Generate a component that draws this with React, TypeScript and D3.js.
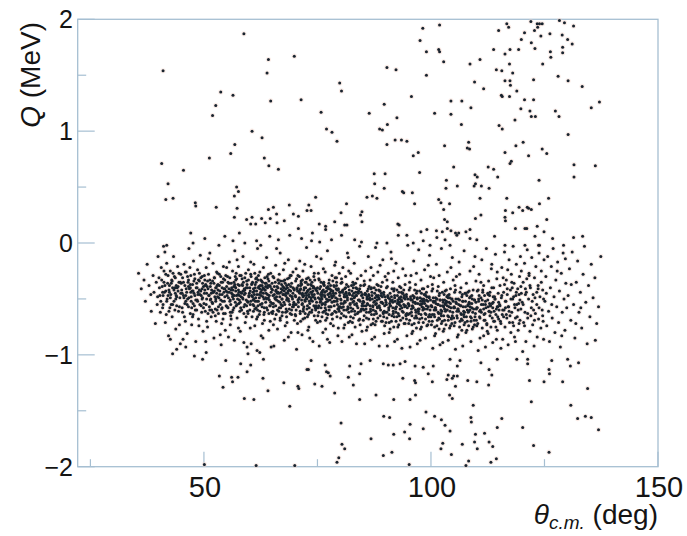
import * as d3 from "d3";

// scatter: flat [theta, Q, theta, Q, ...]
const upperPoints = [
  58.8,1.87, 41.0,1.54, 64.2,1.64, 69.9,1.67, 63.9,1.52, 79.9,1.43, 80.3,1.36, 53.7,1.35, 56.4,1.32, 64.7,1.27,
  71.4,1.28, 52.6,1.23, 51.9,1.14, 75.8,1.17, 86.4,1.16, 77.0,1.02, 78.2,0.99, 79.3,0.91, 60.6,1.00, 62.8,0.94,
  56.8,0.88, 55.9,0.80, 51.2,0.76, 63.3,0.76, 40.7,0.71, 64.3,0.69, 66.4,0.66, 45.5,0.65, 42.1,0.53, 87.5,0.62,
  87.6,0.53, 57.2,0.50, 57.6,0.46, 56.7,0.42, 41.6,0.39, 43.2,0.40, 48.1,0.36, 48.2,0.33, 52.7,0.32, 57.3,0.31,
  74.6,0.41, 85.9,0.41, 87.1,0.42, 88.1,0.40, 56.7,0.23, 64.2,0.30, 65.3,0.32, 68.8,0.34, 73.1,0.34, 72.7,0.29,
  73.6,0.29, 81.4,0.35, 80.2,0.27, 84.8,0.28, 84.5,0.25, 59.4,0.21, 60.6,0.23, 62.7,0.22, 64.6,0.22, 66.0,0.26,
  69.7,0.26, 70.8,0.24, 67.7,0.20, 60.3,0.17, 61.4,0.17, 63.5,0.18, 66.1,0.18, 75.4,0.17, 76.8,0.15, 76.8,0.12,
  78.8,0.19, 81.0,0.16, 81.5,0.16, 84.8,0.19, 70.8,0.13, 47.1,0.09, 57.8,0.09, 73.9,0.09,
  98.2,1.92, 101.9,1.95, 97.6,1.81, 99.0,1.71, 101.7,1.73, 101.9,1.71, 102.8,1.62, 90.3,1.57, 92.3,1.55, 99.0,1.50,
  95.7,1.31, 89.7,1.24, 92.5,1.12, 90.4,1.06, 88.7,1.02, 89.3,1.01, 100.8,1.16, 104.4,1.15, 104.4,1.27, 106.8,1.27,
  108.8,1.21, 106.7,1.06, 108.6,1.60, 110.8,1.64, 109.6,1.44, 111.6,1.38, 113.8,1.73, 114.4,1.55, 115.6,1.54, 116.3,1.69,
  117.4,1.73, 119.3,1.73, 117.3,1.60, 118.0,1.52, 116.3,1.45, 117.4,1.45, 117.5,1.41, 118.9,1.36, 115.5,1.32, 115.7,1.31,
  117.3,1.31, 120.6,1.28, 122.6,1.28, 119.8,1.20, 121.8,1.18, 122.1,1.13, 123.0,1.13, 118.5,1.10, 115.0,1.05, 115.7,1.02,
  116.7,1.96, 117.1,1.93, 114.9,1.90, 119.9,1.82, 120.6,1.88, 122.0,1.98, 122.8,1.90, 123.5,1.93, 123.4,1.96, 123.9,1.96,
  124.5,1.96, 124.2,1.85, 126.2,1.87, 128.3,1.99, 129.4,1.97, 131.4,1.94, 128.9,1.86, 130.1,1.82, 131.1,1.78, 122.9,1.74,
  122.1,1.79, 129.0,1.75, 129.0,1.70, 126.3,1.71, 126.4,1.66, 124.6,1.60, 122.6,1.46, 128.0,1.49, 130.2,1.45, 133.3,1.40,
  127.4,1.18, 128.2,1.13, 135.3,1.21, 137.1,1.26, 130.2,0.97, 92.1,0.92, 93.5,0.92, 94.7,0.91, 90.3,0.88, 103.0,0.87,
  108.3,0.90, 108.0,0.85, 108.5,0.84, 96.1,0.78, 97.2,0.81, 118.7,0.87, 120.3,0.90, 116.3,0.81, 121.5,0.78, 124.5,0.84,
  125.5,0.80, 117.7,0.73, 117.4,0.71, 131.5,0.70, 136.2,0.69, 131.5,0.59, 105.0,0.68, 112.6,0.68, 113.8,0.66, 114.7,0.59,
  109.7,0.61, 110.2,0.59, 109.8,0.53, 97.5,0.63, 89.9,0.62, 89.7,0.49, 103.4,0.56, 105.8,0.51, 103.3,0.49, 109.5,0.51,
  111.1,0.51, 112.8,0.49, 110.8,0.40, 123.8,0.56, 125.9,0.40, 116.7,0.40, 93.7,0.46, 94.0,0.45, 95.9,0.45, 96.4,0.35,
  101.7,0.39, 102.2,0.36, 104.1,0.35, 102.8,0.30, 103.0,0.21, 103.6,0.19, 109.8,0.22, 111.0,0.25, 116.3,0.23, 116.4,0.20,
  118.0,0.27, 116.4,0.29, 119.4,0.32, 120.2,0.29, 121.2,0.32, 121.5,0.31, 122.1,0.30, 123.9,0.35, 125.5,0.21, 118.6,0.13,
  120.7,0.13, 123.4,0.15, 124.9,0.10, 92.7,0.17, 93.0,0.16, 97.8,0.10, 99.1,0.12, 101.2,0.11, 102.5,0.10, 103.6,0.13,
  104.4,0.11, 105.4,0.09, 106.1,0.09, 107.7,0.10, 108.6,0.12,
];

const gapPoints = [
  108.6,0.04, 110.1,0.03, 92.8,0.07, 94.7,0.07, 98.3,0.02, 101.3,0.05, 103.1,0.03, 105.7,0.07, 114.0,0.06, 116.3,-0.02,
  121.1,0.13, 122.9,0.06, 126.8,0.04, 131.4,0.05, 133.4,0.06, 88.1,0.00, 90.3,0.00, 96.1,0.00, 99.8,-0.02, 104.2,-0.02,
  120.7,-0.02, 123.7,-0.02, 129.2,-0.02, 47.6,0.00, 50.2,0.04, 54.6,0.06, 56.4,0.02, 59.0,0.00, 61.6,0.02, 62.5,-0.02,
  64.5,0.06, 66.4,0.03, 68.9,0.07, 71.5,0.04, 73.7,0.02, 75.5,0.01, 78.1,0.03, 80.3,0.07, 83.2,0.03, 84.7,0.01, 41.8,-0.02,
];

const lowerPoints = [
  43.1,-0.99, 47.9,-1.01, 49.7,-1.04, 50.5,-0.98, 54.8,-1.05, 58.1,-1.08, 59.7,-0.99, 60.3,-1.09, 61.7,-0.96, 62.3,-0.98,
  63.1,-1.04, 59.5,-1.15, 53.4,-1.19, 56.1,-1.20, 56.3,-1.24, 57.5,-1.20, 54.2,-1.29, 63.0,-1.21, 64.1,-1.32, 58.9,-1.39,
  61.0,-1.40, 67.6,-1.25, 68.9,-1.46, 70.7,-1.28, 70.9,-1.30, 72.7,-1.13, 73.0,-1.13, 73.6,-1.05, 74.4,-1.26, 76.0,-1.28,
  76.7,-1.09, 77.0,-1.15, 77.4,-1.16, 77.8,-1.19, 78.8,-1.34, 80.2,-1.61, 80.4,-1.80, 81.0,-1.84, 79.7,-1.92, 79.3,-1.96,
  81.8,-1.20, 82.1,-1.10, 82.9,-1.27, 84.3,-1.40, 84.6,-1.08, 84.3,-1.17, 86.8,-1.75, 87.9,-1.36, 50.1,-1.98, 61.5,-1.99,
  70.0,-1.99, 86.6,-1.05, 89.5,-1.08, 90.6,-1.09, 91.7,-1.09, 93.2,-1.08, 94.3,-1.06, 96.5,-1.10, 98.3,-1.11, 100.5,-1.10,
  93.8,-1.21, 96.4,-1.23, 96.6,-1.25, 99.4,-1.17, 100.3,-1.24, 103.5,-1.22, 103.8,-1.18, 104.7,-1.21, 105.0,-1.19, 105.8,-1.19,
  105.4,-1.28, 105.8,-1.10, 106.4,-1.05, 104.2,-1.04, 108.1,-1.23, 110.1,-1.24, 111.0,-1.07, 112.8,-1.13, 113.4,-1.18, 112.7,-1.27,
  114.6,-1.04, 118.9,-1.04, 121.3,-1.04, 121.3,-1.08, 121.7,-1.23, 124.9,-1.24, 126.0,-1.13, 126.1,-1.17, 126.6,-1.05, 129.0,-1.24,
  130.1,-1.04, 130.7,-1.10, 132.5,-1.07, 134.5,-1.30, 136.2,-0.87, 91.8,-1.40, 95.4,-1.40, 96.6,-1.36, 104.1,-1.36, 104.7,-1.39,
  109.3,-1.45, 122.1,-1.42, 130.8,-1.45, 89.6,-1.55, 90.9,-1.56, 98.9,-1.51, 100.8,-1.55, 102.3,-1.58, 103.1,-1.63, 108.8,-1.56,
  108.9,-1.60, 115.6,-1.57, 114.6,-1.65, 120.2,-1.65, 132.3,-1.57, 134.0,-1.55, 135.3,-1.56, 136.9,-1.67, 95.4,-1.62, 98.3,-1.66,
  104.2,-1.68, 94.2,-1.69, 91.8,-1.71, 95.3,-1.75, 109.8,-1.71, 111.8,-1.70, 109.6,-1.78, 112.8,-1.78, 113.6,-1.82, 110.2,-1.84,
  106.9,-1.80, 102.6,-1.79, 102.2,-1.84, 122.6,-1.81, 126.0,-1.87, 89.5,-1.90, 91.4,-1.87, 104.5,-1.89, 108.3,-1.95, 107.7,-1.99,
  113.2,-1.96, 114.4,-1.93, 95.2,-1.98,
];

// dense band, by 5-degree column
const band35 = [35.6,-0.27, 36.2,-0.41, 36.8,-0.33, 37.1,-0.52, 37.5,-0.19, 37.9,-0.38, 38.3,-0.46, 38.4,-0.61, 38.8,-0.29, 39.0,-0.44, 39.3,-0.72, 39.5,-0.35, 39.7,-0.55, 39.9,-0.12, 39.8,-0.48];
const band40 = [40.1,-0.31, 40.3,-0.47, 40.4,-0.62, 40.6,-0.22, 40.8,-0.39, 41.0,-0.55, 41.1,-0.03, 41.3,-0.44, 41.5,-0.71, 41.6,-0.28, 41.8,-0.18, 41.9,-0.50, 42.0,-0.36, 42.2,-0.83, 42.3,-0.42, 42.5,-0.58, 42.6,-0.25, 42.7,-0.46, 42.9,-0.33, 43.0,-0.66, 43.1,-0.40, 43.3,-0.12, 43.4,-0.52, 43.5,-0.30, 43.7,-0.45, 43.8,-0.77, 43.9,-0.38, 44.0,-0.56, 44.2,-0.21, 44.3,-0.43, 44.4,-0.61, 44.5,-0.35, 44.7,-0.49, 44.8,-0.90, 44.9,-0.28, 40.5,-0.52, 41.2,-0.35, 41.7,-0.64, 42.1,-0.47, 42.8,-0.55, 43.2,-0.27, 43.6,-0.60, 44.1,-0.40, 44.6,-0.73, 40.9,-0.44, 42.4,-0.38, 43.9,-0.47, 41.4,-0.08, 44.0,-0.95, 42.6,-0.86];
const band45 = [45.1,-0.42, 45.2,-0.58, 45.3,-0.31, 45.5,-0.47, 45.6,-0.19, 45.7,-0.66, 45.8,-0.38, 46.0,-0.52, 46.1,-0.26, 46.2,-0.44, 46.3,-0.81, 46.5,-0.35, 46.6,-0.57, 46.7,-0.05, 46.8,-0.41, 47.0,-0.63, 47.1,-0.29, 47.2,-0.48, 47.3,-0.73, 47.5,-0.37, 47.6,-0.54, 47.7,-0.16, 47.8,-0.45, 48.0,-0.32, 48.1,-0.60, 48.2,-0.88, 48.3,-0.40, 48.5,-0.51, 48.6,-0.24, 48.7,-0.46, 48.8,-0.68, 49.0,-0.34, 49.1,-0.55, 49.2,-0.11, 49.3,-0.43, 49.5,-0.62, 49.6,-0.30, 49.7,-0.49, 49.8,-0.79, 49.9,-0.39, 45.4,-0.86, 45.9,-0.70, 46.4,-0.50, 46.9,-0.22, 47.4,-0.43, 47.9,-0.56, 48.4,-0.36, 48.9,-0.74, 49.4,-0.47, 49.9,-0.58, 45.0,-0.36, 46.0,-0.93, 47.0,-0.40, 48.0,-0.47, 49.0,-0.27, 45.6,-0.49, 46.6,-0.33, 47.6,-0.64, 48.6,-0.52, 49.6,-0.41];
const band50 = [50.1,-0.45, 50.2,-0.33, 50.3,-0.61, 50.5,-0.22, 50.6,-0.50, 50.7,-0.39, 50.8,-0.75, 51.0,-0.28, 51.1,-0.47, 51.2,-0.57, 51.3,-0.09, 51.5,-0.36, 51.6,-0.66, 51.7,-0.42, 51.8,-0.53, 52.0,-0.18, 52.1,-0.44, 52.2,-0.85, 52.3,-0.31, 52.5,-0.59, 52.6,-0.40, 52.7,-0.70, 52.8,-0.26, 53.0,-0.48, 53.1,-0.37, 53.2,-0.63, 53.3,-0.02, 53.5,-0.43, 53.6,-0.55, 53.7,-0.30, 53.8,-0.91, 54.0,-0.46, 54.1,-0.35, 54.2,-0.68, 54.3,-0.21, 54.5,-0.52, 54.6,-0.41, 54.7,-0.78, 54.8,-0.29, 54.9,-0.56, 50.4,-0.88, 50.9,-0.41, 51.4,-0.51, 51.9,-0.34, 52.4,-0.48, 52.9,-0.60, 53.4,-0.38, 53.9,-0.72, 54.4,-0.44, 50.0,-0.54, 51.0,-0.14, 52.0,-0.62, 53.0,-0.27, 54.0,-0.58, 55.0,-0.39, 50.6,-0.70, 51.6,-0.45, 52.6,-0.52, 53.6,-0.82, 54.6,-0.33, 50.3,-0.38, 51.3,-0.60, 52.3,-0.43, 53.3,-0.49, 54.3,-0.63];
const band55 = [55.1,-0.47, 55.2,-0.30, 55.3,-0.58, 55.5,-0.41, 55.6,-0.17, 55.7,-0.52, 55.8,-0.73, 56.0,-0.36, 56.1,-0.45, 56.2,-0.62, 56.3,-0.25, 56.5,-0.50, 56.6,-0.39, 56.7,-0.87, 56.8,-0.07, 57.0,-0.43, 57.1,-0.56, 57.2,-0.32, 57.3,-0.67, 57.5,-0.46, 57.6,-0.21, 57.7,-0.54, 57.8,-0.38, 58.0,-0.79, 58.1,-0.44, 58.2,-0.29, 58.3,-0.60, 58.5,-0.49, 58.6,-0.12, 58.7,-0.35, 58.8,-0.57, 59.0,-0.42, 59.1,-0.71, 59.2,-0.27, 59.3,-0.51, 59.5,-0.93, 59.6,-0.40, 59.7,-0.63, 59.8,-0.33, 59.9,-0.48, 55.4,-0.84, 55.9,-0.55, 56.4,-0.42, 56.9,-0.30, 57.4,-0.50, 57.9,-0.61, 58.4,-0.37, 58.9,-0.46, 59.4,-0.56, 55.0,-0.22, 56.0,-0.68, 57.0,-0.40, 58.0,-0.53, 59.0,-0.31, 55.6,-0.44, 56.6,-0.58, 57.6,-0.76, 58.6,-0.43, 59.6,-0.52, 55.3,-0.35, 56.3,-0.48, 57.3,-0.15, 58.3,-0.45, 59.3,-0.66, 55.8,-0.62, 56.8,-0.37, 57.8,-0.47, 58.8,-0.89, 59.8,-0.24];
const band60 = [60.1,-0.40, 60.2,-0.55, 60.3,-0.28, 60.5,-0.47, 60.6,-0.66, 60.7,-0.35, 60.8,-0.51, 61.0,-0.19, 61.1,-0.43, 61.2,-0.74, 61.3,-0.37, 61.5,-0.58, 61.6,-0.31, 61.7,-0.46, 61.8,-0.05, 62.0,-0.52, 62.1,-0.39, 62.2,-0.64, 62.3,-0.26, 62.5,-0.44, 62.6,-0.83, 62.7,-0.34, 62.8,-0.57, 63.0,-0.48, 63.1,-0.22, 63.2,-0.41, 63.3,-0.69, 63.5,-0.36, 63.6,-0.53, 63.7,-0.45, 63.8,-0.13, 64.0,-0.60, 64.1,-0.32, 64.2,-0.49, 64.3,-0.78, 64.5,-0.38, 64.6,-0.56, 64.7,-0.27, 64.8,-0.44, 64.9,-0.62, 60.4,-0.90, 60.9,-0.61, 61.4,-0.49, 61.9,-0.33, 62.4,-0.55, 62.9,-0.72, 63.4,-0.42, 63.9,-0.30, 64.4,-0.51, 60.0,-0.45, 61.0,-0.56, 62.0,-0.29, 63.0,-0.85, 64.0,-0.40, 65.0,-0.54, 60.6,-0.36, 61.6,-0.68, 62.6,-0.47, 63.6,-0.39, 64.6,-0.70, 60.3,-0.17, 61.3,-0.52, 62.3,-0.41, 63.3,-0.58, 64.3,-0.34, 60.8,-0.44, 61.8,-0.60, 62.8,-0.38, 63.8,-0.50, 64.8,-0.93, 60.2,-0.76, 61.2,-0.27, 62.2,-0.46, 63.2,-0.64];
const band65 = [65.1,-0.42, 65.2,-0.30, 65.3,-0.57, 65.5,-0.46, 65.6,-0.68, 65.7,-0.35, 65.8,-0.20, 66.0,-0.51, 66.1,-0.39, 66.2,-0.77, 66.3,-0.44, 66.5,-0.61, 66.6,-0.28, 66.7,-0.48, 66.8,-0.09, 67.0,-0.55, 67.1,-0.37, 67.2,-0.65, 67.3,-0.42, 67.5,-0.24, 67.6,-0.53, 67.7,-0.87, 67.8,-0.33, 68.0,-0.47, 68.1,-0.59, 68.2,-0.38, 68.3,-0.71, 68.5,-0.45, 68.6,-0.15, 68.7,-0.52, 68.8,-0.31, 69.0,-0.63, 69.1,-0.43, 69.2,-0.80, 69.3,-0.36, 69.5,-0.50, 69.6,-0.26, 69.7,-0.57, 69.8,-0.41, 69.9,-0.69, 65.4,-0.92, 65.9,-0.64, 66.4,-0.52, 66.9,-0.34, 67.4,-0.46, 67.9,-0.74, 68.4,-0.40, 68.9,-0.55, 69.4,-0.48, 65.0,-0.36, 66.0,-0.05, 67.0,-0.44, 68.0,-0.62, 69.0,-0.29, 65.6,-0.49, 66.6,-0.58, 67.6,-0.40, 68.6,-0.84, 69.6,-0.45, 65.3,-0.73, 66.3,-0.33, 67.3,-0.56, 68.3,-0.49, 69.3,-0.60, 65.8,-0.43, 66.8,-0.69, 67.8,-0.18, 68.8,-0.42, 69.8,-0.53, 65.2,-0.61, 66.2,-0.45, 67.2,-0.50, 68.2,-0.66];
const band70 = [70.1,-0.47, 70.2,-0.34, 70.3,-0.60, 70.5,-0.41, 70.6,-0.72, 70.7,-0.29, 70.8,-0.53, 71.0,-0.44, 71.1,-0.16, 71.2,-0.63, 71.3,-0.38, 71.5,-0.51, 71.6,-0.82, 71.7,-0.45, 71.8,-0.25, 72.0,-0.57, 72.1,-0.40, 72.2,-0.67, 72.3,-0.35, 72.5,-0.49, 72.6,-0.04, 72.7,-0.59, 72.8,-0.43, 73.0,-0.31, 73.1,-0.75, 73.2,-0.48, 73.3,-0.54, 73.5,-0.37, 73.6,-0.21, 73.7,-0.62, 73.8,-0.46, 74.0,-0.88, 74.1,-0.39, 74.2,-0.56, 74.3,-0.27, 74.5,-0.50, 74.6,-0.69, 74.7,-0.42, 74.8,-0.12, 74.9,-0.58, 70.4,-0.95, 70.9,-0.50, 71.4,-0.36, 71.9,-0.61, 72.4,-0.45, 72.9,-0.78, 73.4,-0.41, 73.9,-0.52, 74.4,-0.33, 70.0,-0.55, 71.0,-0.30, 72.0,-0.47, 73.0,-0.64, 74.0,-0.43, 75.0,-0.71, 70.6,-0.43, 71.6,-0.55, 72.6,-0.32, 73.6,-0.49, 74.6,-0.60, 70.3,-0.23, 71.3,-0.70, 72.3,-0.52, 73.3,-0.85, 74.3,-0.46, 70.8,-0.38, 71.8,-0.48, 72.8,-0.66, 73.8,-0.35, 74.8,-0.53, 70.2,-0.65, 71.2,-0.42, 72.2,-0.19, 73.2,-0.58, 74.2,-0.40, 70.7,-0.80, 71.7,-0.33, 72.7,-0.50, 73.7,-0.44];
const band75 = [75.1,-0.45, 75.2,-0.58, 75.3,-0.32, 75.5,-0.50, 75.6,-0.70, 75.7,-0.39, 75.8,-0.14, 76.0,-0.55, 76.1,-0.43, 76.2,-0.80, 76.3,-0.36, 76.5,-0.61, 76.6,-0.48, 76.7,-0.26, 76.8,-0.53, 77.0,-0.40, 77.1,-0.67, 77.2,-0.07, 77.3,-0.46, 77.5,-0.57, 77.6,-0.33, 77.7,-0.89, 77.8,-0.51, 78.0,-0.42, 78.1,-0.64, 78.2,-0.29, 78.3,-0.48, 78.5,-0.74, 78.6,-0.38, 78.7,-0.56, 78.8,-0.20, 79.0,-0.45, 79.1,-0.62, 79.2,-0.35, 79.3,-0.52, 79.5,-0.83, 79.6,-0.41, 79.7,-0.59, 79.8,-0.27, 79.9,-0.47, 75.4,-0.92, 75.9,-0.48, 76.4,-0.37, 76.9,-0.63, 77.4,-0.51, 77.9,-0.72, 78.4,-0.43, 78.9,-0.31, 79.4,-0.55, 75.0,-0.40, 76.0,-0.66, 77.0,-0.50, 78.0,-0.57, 79.0,-0.17, 80.0,-0.44, 75.6,-0.53, 76.6,-0.44, 77.6,-0.60, 78.6,-0.47, 79.6,-0.76, 75.3,-0.62, 76.3,-0.23, 77.3,-0.39, 78.3,-0.68, 79.3,-0.42, 75.8,-0.35, 76.8,-0.77, 77.8,-0.45, 78.8,-0.52, 79.8,-0.61, 75.2,-0.27, 76.2,-0.54, 77.2,-0.86, 78.2,-0.49, 79.2,-0.38, 75.7,-0.46, 76.7,-0.58, 77.7,-0.41];
const band80 = [80.1,-0.50, 80.2,-0.36, 80.3,-0.63, 80.5,-0.44, 80.6,-0.22, 80.7,-0.57, 80.8,-0.76, 81.0,-0.41, 81.1,-0.53, 81.2,-0.30, 81.3,-0.66, 81.5,-0.47, 81.6,-0.09, 81.7,-0.59, 81.8,-0.39, 82.0,-0.84, 82.1,-0.46, 82.2,-0.55, 82.3,-0.27, 82.5,-0.61, 82.6,-0.43, 82.7,-0.71, 82.8,-0.35, 83.0,-0.52, 83.1,-0.18, 83.2,-0.48, 83.3,-0.64, 83.5,-0.40, 83.6,-0.90, 83.7,-0.56, 83.8,-0.32, 84.0,-0.45, 84.1,-0.69, 84.2,-0.51, 84.3,-0.03, 84.5,-0.38, 84.6,-0.60, 84.7,-0.47, 84.8,-0.79, 84.9,-0.54, 80.4,-0.88, 80.9,-0.48, 81.4,-0.60, 81.9,-0.25, 82.4,-0.50, 82.9,-0.67, 83.4,-0.44, 83.9,-0.58, 84.4,-0.73, 80.0,-0.57, 81.0,-0.73, 82.0,-0.42, 83.0,-0.37, 84.0,-0.62, 85.0,-0.49, 80.6,-0.42, 81.6,-0.51, 82.6,-0.82, 83.6,-0.47, 84.6,-0.29, 80.3,-0.32, 81.3,-0.45, 82.3,-0.58, 83.3,-0.75, 84.3,-0.41, 80.8,-0.65, 81.8,-0.13, 82.8,-0.53, 83.8,-0.44, 84.8,-0.56, 80.2,-0.54, 81.2,-0.40, 82.2,-0.70, 83.2,-0.61];
const band85 = [85.1,-0.52, 85.2,-0.38, 85.3,-0.65, 85.5,-0.46, 85.6,-0.25, 85.7,-0.59, 85.8,-0.78, 86.0,-0.43, 86.1,-0.55, 86.2,-0.12, 86.3,-0.68, 86.5,-0.49, 86.6,-0.33, 86.7,-0.61, 86.8,-0.41, 87.0,-0.86, 87.1,-0.50, 87.2,-0.57, 87.3,-0.29, 87.5,-0.64, 87.6,-0.45, 87.7,-0.73, 87.8,-0.04, 88.0,-0.54, 88.1,-0.37, 88.2,-0.48, 88.3,-0.67, 88.5,-0.42, 88.6,-0.92, 88.7,-0.58, 88.8,-0.20, 89.0,-0.47, 89.1,-0.70, 89.2,-0.53, 89.3,-0.35, 89.5,-0.62, 89.6,-0.44, 89.7,-0.81, 89.8,-0.56, 89.9,-0.30, 85.4,-0.90, 85.9,-0.50, 86.4,-0.62, 86.9,-0.40, 87.4,-0.53, 87.9,-0.70, 88.4,-0.47, 88.9,-0.60, 89.4,-0.15, 85.0,-0.59, 86.0,-0.75, 87.0,-0.44, 88.0,-0.63, 89.0,-0.39, 90.0,-0.51, 85.6,-0.46, 86.6,-0.56, 87.6,-0.84, 88.6,-0.50, 89.6,-0.66, 85.3,-0.34, 86.3,-0.47, 87.3,-0.60, 88.3,-0.26, 89.3,-0.48, 85.8,-0.67, 86.8,-0.22, 87.8,-0.55, 88.8,-0.43, 89.8,-0.74, 85.2,-0.56, 86.2,-0.41, 87.2,-0.72, 88.2,-0.58];
const band90 = [90.1,-0.53, 90.2,-0.40, 90.3,-0.67, 90.5,-0.48, 90.6,-0.27, 90.7,-0.60, 90.8,-0.80, 91.0,-0.45, 91.1,-0.56, 91.2,-0.08, 91.3,-0.70, 91.5,-0.51, 91.6,-0.35, 91.7,-0.63, 91.8,-0.43, 92.0,-0.88, 92.1,-0.52, 92.2,-0.59, 92.3,-0.18, 92.5,-0.66, 92.6,-0.47, 92.7,-0.75, 92.8,-0.31, 93.0,-0.55, 93.1,-0.39, 93.2,-0.50, 93.3,-0.69, 93.5,-0.44, 93.6,-0.94, 93.7,-0.61, 93.8,-0.23, 94.0,-0.49, 94.1,-0.72, 94.2,-0.57, 94.3,-0.37, 94.5,-0.64, 94.6,-0.46, 94.7,-0.83, 94.8,-0.58, 94.9,-0.02, 90.4,-0.92, 90.9,-0.54, 91.4,-0.65, 91.9,-0.41, 92.4,-0.57, 92.9,-0.73, 93.4,-0.48, 93.9,-0.62, 94.4,-0.29, 90.0,-0.62, 91.0,-0.77, 92.0,-0.47, 93.0,-0.65, 94.0,-0.42, 95.0,-0.54, 90.6,-0.49, 91.6,-0.58, 92.6,-0.86, 93.6,-0.52, 94.6,-0.68, 90.3,-0.33, 91.3,-0.14, 92.3,-0.62, 93.3,-0.56, 94.3,-0.50, 90.8,-0.71, 91.8,-0.25, 92.8,-0.53, 93.8,-0.45];
const band95 = [95.1,-0.55, 95.2,-0.42, 95.3,-0.69, 95.5,-0.50, 95.6,-0.29, 95.7,-0.62, 95.8,-0.81, 96.0,-0.47, 96.1,-0.58, 96.2,-0.16, 96.3,-0.72, 96.5,-0.53, 96.6,-0.37, 96.7,-0.65, 96.8,-0.45, 97.0,-0.90, 97.1,-0.54, 97.2,-0.61, 97.3,-0.06, 97.5,-0.68, 97.6,-0.49, 97.7,-0.77, 97.8,-0.33, 98.0,-0.57, 98.1,-0.41, 98.2,-0.52, 98.3,-0.71, 98.5,-0.46, 98.6,-0.24, 98.7,-0.63, 98.8,-0.85, 99.0,-0.51, 99.1,-0.74, 99.2,-0.59, 99.3,-0.39, 99.5,-0.66, 99.6,-0.48, 99.7,-0.11, 99.8,-0.60, 99.9,-0.30, 95.4,-0.93, 95.9,-0.56, 96.4,-0.67, 96.9,-0.43, 97.4,-0.59, 97.9,-0.75, 98.4,-0.50, 98.9,-0.64, 99.4,-0.20, 95.0,-0.64, 96.0,-0.79, 97.0,-0.49, 98.0,-0.67, 99.0,-0.44, 100.0,-0.56, 95.6,-0.51, 96.6,-0.60, 97.6,-0.87, 98.6,-0.54, 99.6,-0.70, 95.3,-0.35, 96.3,-0.48, 97.3,-0.63, 98.3,-0.58, 99.3,-0.52, 95.8,-0.73, 96.8,-0.27, 97.8,-0.55, 98.8,-0.47];
const band100 = [100.1,-0.56, 100.2,-0.43, 100.3,-0.70, 100.5,-0.52, 100.6,-0.31, 100.7,-0.64, 100.8,-0.83, 101.0,-0.49, 101.1,-0.60, 101.2,-0.19, 101.3,-0.74, 101.5,-0.55, 101.6,-0.39, 101.7,-0.67, 101.8,-0.47, 102.0,-0.91, 102.1,-0.56, 102.2,-0.63, 102.3,-0.05, 102.5,-0.70, 102.6,-0.51, 102.7,-0.79, 102.8,-0.35, 103.0,-0.59, 103.1,-0.43, 103.2,-0.54, 103.3,-0.73, 103.5,-0.48, 103.6,-0.26, 103.7,-0.65, 103.8,-0.87, 104.0,-0.53, 104.1,-0.76, 104.2,-0.61, 104.3,-0.41, 104.5,-0.68, 104.6,-0.50, 104.7,-0.13, 104.8,-0.62, 104.9,-0.33, 100.4,-0.94, 100.9,-0.58, 101.4,-0.69, 101.9,-0.45, 102.4,-0.61, 102.9,-0.77, 103.4,-0.52, 103.9,-0.66, 104.4,-0.22, 100.0,-0.66, 101.0,-0.81, 102.0,-0.51, 103.0,-0.69, 104.0,-0.46, 105.0,-0.58, 100.6,-0.53, 101.6,-0.62, 102.6,-0.89, 103.6,-0.56, 104.6,-0.72, 100.3,-0.37, 101.3,-0.50, 102.3,-0.65, 103.3,-0.60, 104.3,-0.54, 100.8,-0.75, 101.8,-0.29, 102.8,-0.57, 103.8,-0.49];
const band105 = [105.1,-0.57, 105.2,-0.44, 105.3,-0.71, 105.5,-0.53, 105.6,-0.30, 105.7,-0.65, 105.8,-0.84, 106.0,-0.50, 106.1,-0.61, 106.2,-0.17, 106.3,-0.75, 106.5,-0.56, 106.6,-0.40, 106.7,-0.68, 106.8,-0.48, 107.0,-0.92, 107.1,-0.57, 107.2,-0.64, 107.3,-0.07, 107.5,-0.71, 107.6,-0.52, 107.7,-0.80, 107.8,-0.36, 108.0,-0.60, 108.1,-0.44, 108.2,-0.55, 108.3,-0.74, 108.5,-0.49, 108.6,-0.25, 108.7,-0.66, 108.8,-0.88, 109.0,-0.54, 109.1,-0.77, 109.2,-0.62, 109.3,-0.42, 109.5,-0.69, 109.6,-0.51, 109.7,-0.12, 109.8,-0.63, 109.9,-0.34, 105.4,-0.95, 105.9,-0.59, 106.4,-0.70, 106.9,-0.46, 107.4,-0.62, 107.9,-0.78, 108.4,-0.53, 108.9,-0.67, 109.4,-0.21, 105.0,-0.67, 106.0,-0.82, 107.0,-0.52, 108.0,-0.70, 109.0,-0.47, 110.0,-0.59, 105.6,-0.54, 106.6,-0.63, 107.6,-0.45, 108.6,-0.57, 109.6,-0.73, 105.3,-0.38, 106.3,-0.28, 107.3,-0.66, 108.3,-0.61];
const band110 = [110.1,-0.58, 110.2,-0.43, 110.3,-0.72, 110.5,-0.52, 110.6,-0.28, 110.7,-0.66, 110.8,-0.85, 111.0,-0.49, 111.1,-0.62, 111.2,-0.15, 111.3,-0.76, 111.5,-0.55, 111.6,-0.38, 111.7,-0.69, 111.8,-0.47, 112.0,-0.93, 112.1,-0.58, 112.2,-0.05, 112.3,-0.72, 112.5,-0.51, 112.6,-0.81, 112.7,-0.34, 112.8,-0.61, 113.0,-0.44, 113.1,-0.56, 113.2,-0.75, 113.3,-0.23, 113.5,-0.67, 113.6,-0.89, 113.7,-0.53, 113.8,-0.40, 114.0,-0.70, 114.1,-0.50, 114.2,-0.10, 114.3,-0.64, 114.5,-0.32, 114.6,-0.78, 114.7,-0.57, 114.8,-0.45, 114.9,-0.68, 110.4,-0.96, 110.9,-0.60, 111.4,-0.42, 111.9,-0.63, 112.4,-0.79, 112.9,-0.54, 113.4,-0.19, 113.9,-0.61, 114.4,-0.86, 110.0,-0.69, 111.0,-0.35, 112.0,-0.55, 113.0,-0.65, 114.0,-0.48, 115.0,-0.60, 110.6,-0.47, 111.6,-0.83, 112.6,-0.46, 113.6,-0.58, 114.6,-0.26];
const band115 = [115.1,-0.55, 115.2,-0.38, 115.3,-0.70, 115.5,-0.49, 115.6,-0.22, 115.7,-0.64, 115.8,-0.86, 116.0,-0.44, 116.1,-0.60, 116.2,-0.08, 116.3,-0.75, 116.5,-0.52, 116.6,-0.33, 116.7,-0.67, 116.8,-0.46, 117.0,-0.91, 117.1,-0.57, 117.2,-0.15, 117.3,-0.71, 117.5,-0.42, 117.6,-0.80, 117.7,-0.28, 117.8,-0.62, 118.0,-0.50, 118.1,-0.03, 118.2,-0.74, 118.3,-0.36, 118.5,-0.58, 118.6,-0.88, 118.7,-0.47, 118.8,-0.19, 119.0,-0.66, 119.1,-0.41, 119.2,-0.78, 119.3,-0.54, 119.5,-0.30, 119.6,-0.69, 119.7,-0.12, 119.8,-0.59, 119.9,-0.45, 115.4,-0.94, 115.9,-0.31, 116.4,-0.58, 116.9,-0.24, 117.4,-0.65, 117.9,-0.40, 118.4,-0.84, 118.9,-0.55, 119.4,-0.72, 119.9,-0.25];
const band120 = [120.1,-0.53, 120.3,-0.35, 120.4,-0.71, 120.6,-0.18, 120.7,-0.62, 120.9,-0.88, 121.0,-0.44, 121.2,-0.06, 121.3,-0.67, 121.5,-0.50, 121.6,-0.27, 121.8,-0.79, 121.9,-0.40, 122.1,-0.58, 122.2,-0.13, 122.4,-0.73, 122.5,-0.46, 122.7,-0.92, 122.8,-0.31, 123.0,-0.63, 123.1,-0.21, 123.3,-0.55, 123.4,-0.84, 123.6,-0.38, 123.7,-0.68, 123.9,-0.02, 124.0,-0.48, 124.2,-0.76, 124.3,-0.25, 124.5,-0.60, 124.6,-0.42, 124.8,-0.86, 124.9,-0.15, 120.2,-0.97, 121.1,-0.32, 122.0,-0.65, 122.9,-0.49, 123.8,-0.09, 124.7,-0.70, 120.8,-0.41];
const band125 = [125.1,-0.52, 125.3,-0.30, 125.5,-0.74, 125.7,-0.12, 125.9,-0.61, 126.1,-0.88, 126.3,-0.40, 126.5,-0.21, 126.7,-0.67, 126.9,-0.05, 127.1,-0.48, 127.3,-0.80, 127.5,-0.33, 127.7,-0.57, 127.9,-0.17, 128.1,-0.71, 128.3,-0.43, 128.5,-0.93, 128.7,-0.27, 128.9,-0.62, 129.1,-0.09, 129.3,-0.50, 129.5,-0.78, 129.7,-0.36, 129.9,-0.58, 125.4,-0.45, 126.6,-0.55, 127.8,-0.25, 128.8,-0.83, 129.6,-0.14];
const band130 = [130.2,-0.47, 130.5,-0.23, 130.8,-0.69, 131.1,-0.08, 131.4,-0.55, 131.7,-0.85, 132.0,-0.35, 132.3,-0.16, 132.6,-0.62, 132.9,-0.44, 133.2,-0.76, 133.5,-0.28, 133.8,-0.03, 134.1,-0.53, 134.4,-0.90, 134.7,-0.38, 135.0,-0.66, 135.3,-0.19, 135.7,-0.49, 136.1,-0.31, 136.5,-0.72, 136.9,-0.57, 137.4,-0.12, 130.9,-0.37, 133.0,-0.58, 131.9,-0.72];

// darkest core of the band
const core40 = [40.2,-0.40, 40.7,-0.33, 41.0,-0.47, 41.4,-0.38, 41.8,-0.52, 42.1,-0.29, 42.4,-0.44, 42.8,-0.36, 43.1,-0.55, 43.4,-0.42, 43.7,-0.31, 44.0,-0.48, 44.3,-0.39, 44.6,-0.57, 44.9,-0.45, 40.9,-0.58, 41.6,-0.43, 42.3,-0.61, 43.0,-0.34, 43.8,-0.50, 44.5,-0.27, 42.6,-0.49, 41.2,-0.25, 43.6,-0.40, 44.8,-0.35];
const core45 = [45.2,-0.45, 45.5,-0.35, 45.8,-0.54, 46.1,-0.41, 46.4,-0.30, 46.7,-0.49, 47.0,-0.37, 47.3,-0.58, 47.6,-0.43, 47.9,-0.28, 48.2,-0.51, 48.5,-0.40, 48.8,-0.33, 49.1,-0.46, 49.4,-0.56, 49.7,-0.36, 45.3,-0.62, 46.0,-0.47, 46.6,-0.39, 47.2,-0.52, 47.8,-0.34, 48.4,-0.60, 49.0,-0.42, 49.6,-0.50, 45.9,-0.26, 47.5,-0.66, 48.7,-0.44, 46.3,-0.55, 49.3,-0.31, 47.1,-0.44];
const core50 = [50.2,-0.42, 50.5,-0.55, 50.8,-0.34, 51.1,-0.47, 51.4,-0.39, 51.7,-0.60, 52.0,-0.44, 52.3,-0.31, 52.6,-0.50, 52.9,-0.38, 53.2,-0.57, 53.5,-0.46, 53.8,-0.35, 54.1,-0.52, 54.4,-0.41, 54.7,-0.63, 50.1,-0.29, 50.9,-0.63, 51.5,-0.50, 52.2,-0.36, 52.8,-0.45, 53.4,-0.28, 54.0,-0.40, 54.6,-0.48, 50.6,-0.45, 51.3,-0.33, 51.9,-0.54, 52.5,-0.65, 53.1,-0.42, 53.7,-0.51, 54.3,-0.32, 54.9,-0.43, 50.4,-0.37, 52.7,-0.40, 53.9,-0.59];
const core55 = [55.2,-0.44, 55.5,-0.36, 55.8,-0.51, 56.1,-0.40, 56.4,-0.60, 56.7,-0.47, 57.0,-0.33, 57.3,-0.55, 57.6,-0.42, 57.9,-0.29, 58.2,-0.48, 58.5,-0.38, 58.8,-0.63, 59.1,-0.45, 59.4,-0.34, 59.7,-0.53, 55.1,-0.57, 55.7,-0.31, 56.3,-0.46, 56.9,-0.53, 57.5,-0.37, 58.1,-0.58, 58.7,-0.43, 59.3,-0.40, 59.9,-0.47, 55.4,-0.49, 56.0,-0.42, 56.6,-0.35, 57.2,-0.47, 57.8,-0.51, 58.4,-0.32, 59.0,-0.55, 59.6,-0.61, 55.9,-0.65, 56.8,-0.39, 57.7,-0.44, 58.6,-0.50, 59.5,-0.37, 57.1,-0.27, 58.9,-0.41];
const core60 = [60.2,-0.43, 60.5,-0.37, 60.8,-0.55, 61.1,-0.46, 61.4,-0.32, 61.7,-0.52, 62.0,-0.40, 62.3,-0.61, 62.6,-0.44, 62.9,-0.35, 63.2,-0.50, 63.5,-0.42, 63.8,-0.58, 64.1,-0.38, 64.4,-0.47, 64.7,-0.53, 60.1,-0.60, 60.7,-0.48, 61.3,-0.40, 61.9,-0.56, 62.5,-0.33, 63.1,-0.45, 63.7,-0.36, 64.3,-0.63, 64.9,-0.41, 60.4,-0.30, 61.0,-0.50, 61.6,-0.43, 62.2,-0.49, 62.8,-0.54, 63.4,-0.31, 64.0,-0.46, 64.6,-0.39, 60.9,-0.41, 61.8,-0.66, 62.7,-0.42, 63.6,-0.49, 64.5,-0.56, 60.3,-0.52, 61.5,-0.35, 62.4,-0.38, 63.3,-0.62, 64.2,-0.28, 63.0,-0.40, 61.2,-0.59];
const core65 = [65.2,-0.47, 65.5,-0.39, 65.8,-0.56, 66.1,-0.44, 66.4,-0.33, 66.7,-0.53, 67.0,-0.41, 67.3,-0.62, 67.6,-0.46, 67.9,-0.36, 68.2,-0.51, 68.5,-0.43, 68.8,-0.59, 69.1,-0.39, 69.4,-0.48, 69.7,-0.55, 65.1,-0.63, 65.7,-0.50, 66.3,-0.40, 66.9,-0.58, 67.5,-0.34, 68.1,-0.45, 68.7,-0.37, 69.3,-0.64, 69.9,-0.42, 65.4,-0.31, 66.0,-0.48, 66.6,-0.45, 67.2,-0.50, 67.8,-0.55, 68.4,-0.32, 69.0,-0.47, 69.6,-0.40, 65.9,-0.42, 66.8,-0.67, 67.7,-0.43, 68.6,-0.50, 69.5,-0.57, 65.3,-0.54, 66.5,-0.36, 67.4,-0.39, 68.3,-0.61, 69.2,-0.29, 68.0,-0.41, 66.2,-0.60];
const core70 = [70.2,-0.48, 70.5,-0.40, 70.8,-0.57, 71.1,-0.45, 71.4,-0.34, 71.7,-0.54, 72.0,-0.42, 72.3,-0.63, 72.6,-0.47, 72.9,-0.37, 73.2,-0.52, 73.5,-0.44, 73.8,-0.60, 74.1,-0.40, 74.4,-0.49, 74.7,-0.56, 70.1,-0.64, 70.7,-0.51, 71.3,-0.41, 71.9,-0.59, 72.5,-0.35, 73.1,-0.46, 73.7,-0.38, 74.3,-0.65, 74.9,-0.43, 70.4,-0.32, 71.0,-0.49, 71.6,-0.46, 72.2,-0.51, 72.8,-0.56, 73.4,-0.33, 74.0,-0.48, 74.6,-0.41, 70.9,-0.43, 71.8,-0.68, 72.7,-0.44, 73.6,-0.51, 74.5,-0.58, 70.3,-0.55, 71.5,-0.37, 72.4,-0.40, 73.3,-0.62, 74.2,-0.30, 73.0,-0.42, 71.2,-0.61];
const core75 = [75.2,-0.49, 75.5,-0.41, 75.8,-0.58, 76.1,-0.46, 76.4,-0.35, 76.7,-0.55, 77.0,-0.43, 77.3,-0.64, 77.6,-0.48, 77.9,-0.38, 78.2,-0.53, 78.5,-0.45, 78.8,-0.61, 79.1,-0.41, 79.4,-0.50, 79.7,-0.57, 75.1,-0.65, 75.7,-0.52, 76.3,-0.42, 76.9,-0.60, 77.5,-0.36, 78.1,-0.47, 78.7,-0.39, 79.3,-0.66, 79.9,-0.44, 75.4,-0.33, 76.0,-0.50, 76.6,-0.47, 77.2,-0.52, 77.8,-0.57, 78.4,-0.34, 79.0,-0.49, 79.6,-0.42, 75.9,-0.44, 76.8,-0.69, 77.7,-0.45, 78.6,-0.52, 79.5,-0.59, 75.3,-0.56, 76.5,-0.38, 77.4,-0.41, 78.3,-0.63, 79.2,-0.31, 78.0,-0.43, 76.2,-0.62];
const core80 = [80.2,-0.51, 80.5,-0.43, 80.8,-0.60, 81.1,-0.48, 81.4,-0.37, 81.7,-0.57, 82.0,-0.45, 82.3,-0.66, 82.6,-0.50, 82.9,-0.40, 83.2,-0.55, 83.5,-0.47, 83.8,-0.63, 84.1,-0.43, 84.4,-0.52, 84.7,-0.59, 80.1,-0.67, 80.7,-0.54, 81.3,-0.44, 81.9,-0.62, 82.5,-0.38, 83.1,-0.49, 83.7,-0.41, 84.3,-0.68, 84.9,-0.46, 80.4,-0.35, 81.0,-0.52, 81.6,-0.49, 82.2,-0.54, 82.8,-0.59, 83.4,-0.36, 84.0,-0.51, 84.6,-0.44, 80.9,-0.46, 81.8,-0.71, 82.7,-0.47, 83.6,-0.54, 84.5,-0.61, 80.3,-0.58, 83.0,-0.45];
const core85 = [85.2,-0.53, 85.5,-0.45, 85.8,-0.62, 86.1,-0.50, 86.4,-0.39, 86.7,-0.59, 87.0,-0.47, 87.3,-0.68, 87.6,-0.52, 87.9,-0.42, 88.2,-0.57, 88.5,-0.49, 88.8,-0.65, 89.1,-0.45, 89.4,-0.54, 89.7,-0.61, 85.1,-0.69, 85.7,-0.56, 86.3,-0.46, 86.9,-0.64, 87.5,-0.40, 88.1,-0.51, 88.7,-0.43, 89.3,-0.70, 89.9,-0.48, 85.4,-0.37, 86.0,-0.54, 86.6,-0.51, 87.2,-0.56, 87.8,-0.61, 88.4,-0.38, 89.0,-0.53, 89.6,-0.46, 85.9,-0.48, 86.8,-0.73, 87.7,-0.49, 88.6,-0.56, 89.5,-0.63, 85.3,-0.60, 88.0,-0.47];
const core90 = [90.2,-0.55, 90.5,-0.47, 90.8,-0.64, 91.1,-0.52, 91.4,-0.41, 91.7,-0.61, 92.0,-0.49, 92.3,-0.70, 92.6,-0.54, 92.9,-0.44, 93.2,-0.59, 93.5,-0.51, 93.8,-0.67, 94.1,-0.47, 94.4,-0.56, 94.7,-0.63, 90.1,-0.71, 90.7,-0.58, 91.3,-0.48, 91.9,-0.66, 92.5,-0.42, 93.1,-0.53, 93.7,-0.45, 94.3,-0.72, 94.9,-0.50, 90.4,-0.39, 91.0,-0.56, 91.6,-0.53, 92.2,-0.58, 92.8,-0.63, 93.4,-0.40, 94.0,-0.55, 94.6,-0.48, 90.9,-0.50, 91.8,-0.75, 92.7,-0.51, 93.6,-0.58, 94.5,-0.65, 90.3,-0.62, 93.0,-0.49];
const core95 = [95.2,-0.56, 95.5,-0.48, 95.8,-0.65, 96.1,-0.53, 96.4,-0.42, 96.7,-0.62, 97.0,-0.50, 97.3,-0.71, 97.6,-0.55, 97.9,-0.45, 98.2,-0.60, 98.5,-0.52, 98.8,-0.68, 99.1,-0.48, 99.4,-0.57, 99.7,-0.64, 95.1,-0.72, 95.7,-0.59, 96.3,-0.49, 96.9,-0.67, 97.5,-0.43, 98.1,-0.54, 98.7,-0.46, 99.3,-0.73, 99.9,-0.51, 95.4,-0.40, 96.0,-0.57, 96.6,-0.54, 97.2,-0.59, 97.8,-0.64, 98.4,-0.41, 99.0,-0.56, 99.6,-0.49, 95.9,-0.51, 96.8,-0.76, 97.7,-0.52, 98.6,-0.59, 99.5,-0.66, 95.3,-0.63, 98.0,-0.50];
const core100 = [100.2,-0.57, 100.5,-0.49, 100.8,-0.66, 101.1,-0.54, 101.4,-0.43, 101.7,-0.63, 102.0,-0.51, 102.3,-0.72, 102.6,-0.56, 102.9,-0.46, 103.2,-0.61, 103.5,-0.53, 103.8,-0.69, 104.1,-0.49, 104.4,-0.58, 104.7,-0.65, 100.1,-0.73, 100.7,-0.60, 101.3,-0.50, 101.9,-0.68, 102.5,-0.44, 103.1,-0.55, 103.7,-0.47, 104.3,-0.74, 104.9,-0.52, 100.4,-0.41, 101.0,-0.58, 101.6,-0.55, 102.2,-0.60, 102.8,-0.65, 103.4,-0.42, 104.0,-0.57, 104.6,-0.50, 100.9,-0.52, 101.8,-0.77, 102.7,-0.53, 103.6,-0.60, 104.5,-0.67, 100.3,-0.64, 103.0,-0.51];
const core105 = [105.2,-0.58, 105.5,-0.50, 105.8,-0.67, 106.1,-0.55, 106.4,-0.44, 106.7,-0.64, 107.0,-0.52, 107.3,-0.73, 107.6,-0.57, 107.9,-0.47, 108.2,-0.62, 108.5,-0.54, 108.8,-0.70, 109.1,-0.50, 109.4,-0.59, 109.7,-0.66, 105.1,-0.74, 105.7,-0.61, 106.3,-0.51, 106.9,-0.69, 107.5,-0.45, 108.1,-0.56, 108.7,-0.48, 109.3,-0.75, 109.9,-0.53, 105.4,-0.42, 106.0,-0.59, 106.6,-0.56, 107.2,-0.61, 107.8,-0.66, 108.4,-0.43, 109.0,-0.58, 109.6,-0.51, 106.8,-0.78, 108.6,-0.60];
const core110 = [110.2,-0.58, 110.5,-0.50, 110.8,-0.67, 111.1,-0.55, 111.4,-0.44, 111.7,-0.64, 112.0,-0.52, 112.3,-0.73, 112.6,-0.57, 112.9,-0.47, 113.2,-0.62, 113.5,-0.54, 113.8,-0.70, 114.1,-0.50, 114.4,-0.59, 114.7,-0.66, 110.1,-0.74, 110.7,-0.61, 111.3,-0.51, 111.9,-0.69, 112.5,-0.45, 113.1,-0.56, 113.7,-0.48, 114.3,-0.75, 114.9,-0.53, 110.4,-0.42, 111.6,-0.59, 112.8,-0.61, 113.4,-0.40, 114.6,-0.57];
const core115 = [115.2,-0.56, 115.6,-0.47, 116.0,-0.66, 116.4,-0.52, 116.8,-0.41, 117.2,-0.61, 117.6,-0.50, 118.0,-0.71, 118.4,-0.55, 118.8,-0.44, 119.2,-0.60, 119.6,-0.51, 115.4,-0.72, 116.2,-0.37, 117.0,-0.57, 117.8,-0.35, 118.6,-0.67, 119.4,-0.46, 115.8,-0.60, 116.6,-0.64, 118.2,-0.48, 119.8,-0.39];
const core120 = [120.3,-0.55, 120.8,-0.46, 121.3,-0.63, 121.8,-0.38, 122.3,-0.52, 122.8,-0.69, 123.3,-0.44, 123.8,-0.58, 124.3,-0.35, 124.8,-0.50, 120.6,-0.74, 121.6,-0.29, 122.6,-0.60, 123.6,-0.41, 124.6,-0.65];

const xMajor = [50, 100, 150];
const xMinor = [25, 75, 125];
const xTickLabels = ["50", "100", "150"];
const yMajor = [-2, -1, 0, 1, 2];
const yMinor = [-1.5, -0.5, 0.5, 1.5];
const yTickLabels = ["\u22122", "\u22121", "0", "1", "2"];

const W = 687;
const H = 536;
const frame = { left: 77.7, right: 658, top: 19.3, bottom: 466.7 };
const axisColor = "#a6bfd2";
const font = "'Liberation Sans', Arial, Helvetica, sans-serif";

function toPairs(flat: number[]): [number, number][] {
  const out: [number, number][] = [];
  for (let i = 0; i + 1 < flat.length; i += 2) out.push([flat[i], flat[i + 1]]);
  return out;
}

const allPoints = [
  upperPoints, gapPoints, lowerPoints,
  band35, band40, band45, band50, band55, band60, band65, band70, band75,
  band80, band85, band90, band95, band100, band105, band110, band115,
  band120, band125, band130,
  core40, core45, core50, core55, core60, core65, core70, core75, core80,
  core85, core90, core95, core100, core105, core110, core115, core120,
].flatMap(toPairs);

export default function App() {
  const x = d3.scaleLinear().domain([22.2, 150]).range([frame.left, frame.right]);
  const y = d3.scaleLinear().domain([-2, 2]).range([frame.bottom, frame.top]);
  const majorLen = 15;
  const minorLen = 7.5;

  return (
    <svg
      width={W}
      height={H}
      viewBox={`0 0 ${W} ${H}`}
      style={{ position: "absolute", left: 0, top: 0, background: "#fff" }}
      fontFamily={font}
    >
      {/* frame */}
      <rect
        x={frame.left}
        y={frame.top}
        width={frame.right - frame.left}
        height={frame.bottom - frame.top}
        fill="none"
        stroke={axisColor}
        strokeWidth={1.3}
      />

      {/* x ticks */}
      {xMajor.map(v => (
        <line key={`xM${v}`} x1={x(v)} x2={x(v)} y1={frame.bottom} y2={frame.bottom - majorLen} stroke={axisColor} strokeWidth={1.2} />
      ))}
      {xMinor.map(v => (
        <line key={`xm${v}`} x1={x(v)} x2={x(v)} y1={frame.bottom} y2={frame.bottom - minorLen} stroke={axisColor} strokeWidth={1.2} />
      ))}
      {xMajor.map((v, i) => (
        <text key={`xl${v}`} x={x(v) + 1} y={497} textAnchor="middle" fontSize={29} fill="#141414">
          {xTickLabels[i]}
        </text>
      ))}

      {/* y ticks */}
      {yMajor.map(v => (
        <line key={`yM${v}`} x1={frame.left} x2={frame.left + majorLen + 2} y1={y(v)} y2={y(v)} stroke={axisColor} strokeWidth={1.2} />
      ))}
      {yMinor.map(v => (
        <line key={`ym${v}`} x1={frame.left} x2={frame.left + minorLen + 1} y1={y(v)} y2={y(v)} stroke={axisColor} strokeWidth={1.2} />
      ))}
      {yMajor.map((v, i) => (
        <text key={`yl${v}`} x={73} y={y(v) + 9} textAnchor="end" fontSize={25} fill="#141414">
          {yTickLabels[i]}
        </text>
      ))}

      {/* points: faint fringe then dark dot */}
      <g>
        {allPoints.map(([t, q], i) => (
          <circle key={`h${i}`} cx={x(t)} cy={y(q)} r={2.6} fill="#f2cfc4" opacity={0.4} />
        ))}
      </g>
      <g>
        {allPoints.map(([t, q], i) => (
          <circle key={`p${i}`} cx={x(t)} cy={y(q)} r={1.5} fill="#18232e" />
        ))}
      </g>

      {/* axis titles */}
      <text transform="translate(40,22) rotate(-90)" textAnchor="end" fontSize={28} fill="#141414">
        <tspan fontStyle="italic">Q</tspan>
        <tspan> (MeV)</tspan>
      </text>
      <text x={658} y={524} textAnchor="end" fontSize={28} fill="#141414">
        <tspan fontStyle="italic">θ</tspan>
        <tspan fontStyle="italic" fontSize={19} dy={5}>c.m.</tspan>
        <tspan dy={-5}> (deg)</tspan>
      </text>
    </svg>
  );
}
